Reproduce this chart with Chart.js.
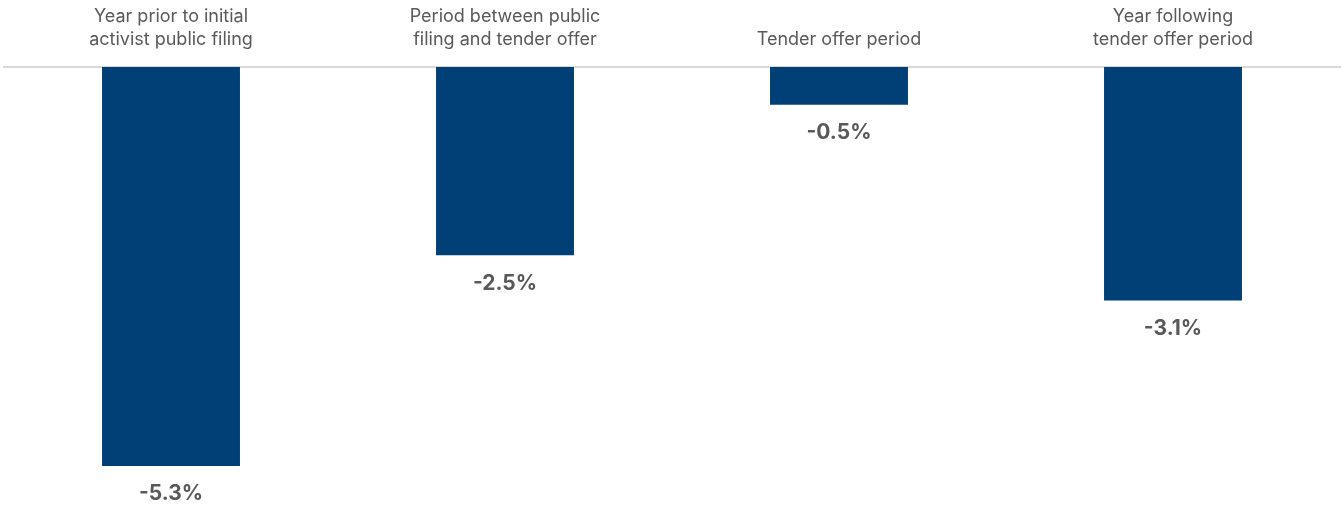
<!DOCTYPE html>
<html>
<head>
<meta charset="utf-8">
<script src="https://cdn.jsdelivr.net/npm/chart.js@4"></script>
<style>
    html, body { margin: 0; padding: 0; background: #fff; }
    #wrap { width: 1342px; height: 506px; }
</style>
</head>
<body>
<div id="wrap"><canvas id="returnsChart"></canvas></div>
<script>
const periods = [
    ['Year prior to initial', 'activist public filing'],
    ['Period between public', 'filing and tender offer'],
    'Tender offer period',
    ['Year following', 'tender offer period']
];
const returns = [-5.3, -2.5, -0.5, -3.1];

const textColor = '#595959';
const fontFamily = 'Inter, "Noto Sans", sans-serif';

// value labels under the end of each bar
const valueLabels = {
    id: 'valueLabels',
    afterDatasetsDraw(chart) {
        const ctx = chart.ctx;
        const meta = chart.getDatasetMeta(0);
        ctx.save();
        ctx.fillStyle = textColor;
        ctx.font = '700 21px ' + fontFamily;
        ctx.textAlign = 'center';
        ctx.textBaseline = 'middle';
        meta.data.forEach((bar, i) => {
            ctx.fillText(returns[i].toFixed(1) + '%', bar.x, bar.y + 28);
        });
        ctx.restore();
    }
};

document.addEventListener('DOMContentLoaded', () => {
    const ctx = document.getElementById('returnsChart');

    new Chart(ctx, {
        type: 'bar',
        data: {
            labels: periods,
            datasets: [{
                data: returns,
                backgroundColor: '#004077',
                barPercentage: 0.413,
                categoryPercentage: 1
            }]
        },
        options: {
            responsive: true,
            maintainAspectRatio: false,
            animation: false,
            layout: {
                padding: { left: 4, right: 2, top: 0, bottom: 0 }
            },
            scales: {
                x: {
                    position: 'top',
                    grid: { display: false, drawTicks: false },
                    border: { display: true, color: '#d9d9d9', width: 2 },
                    ticks: {
                        color: textColor,
                        padding: 16,
                        maxRotation: 0,
                        font: { family: fontFamily, size: 18, lineHeight: 1.28 }
                    },
                    afterFit(scale) {
                        scale.height = 67;
                    }
                },
                y: {
                    display: false,
                    min: -5.83,
                    max: 0
                }
            },
            plugins: {
                legend: { display: false },
                tooltip: { enabled: false }
            }
        },
        plugins: [valueLabels]
    });
});
</script>
</body>
</html>
